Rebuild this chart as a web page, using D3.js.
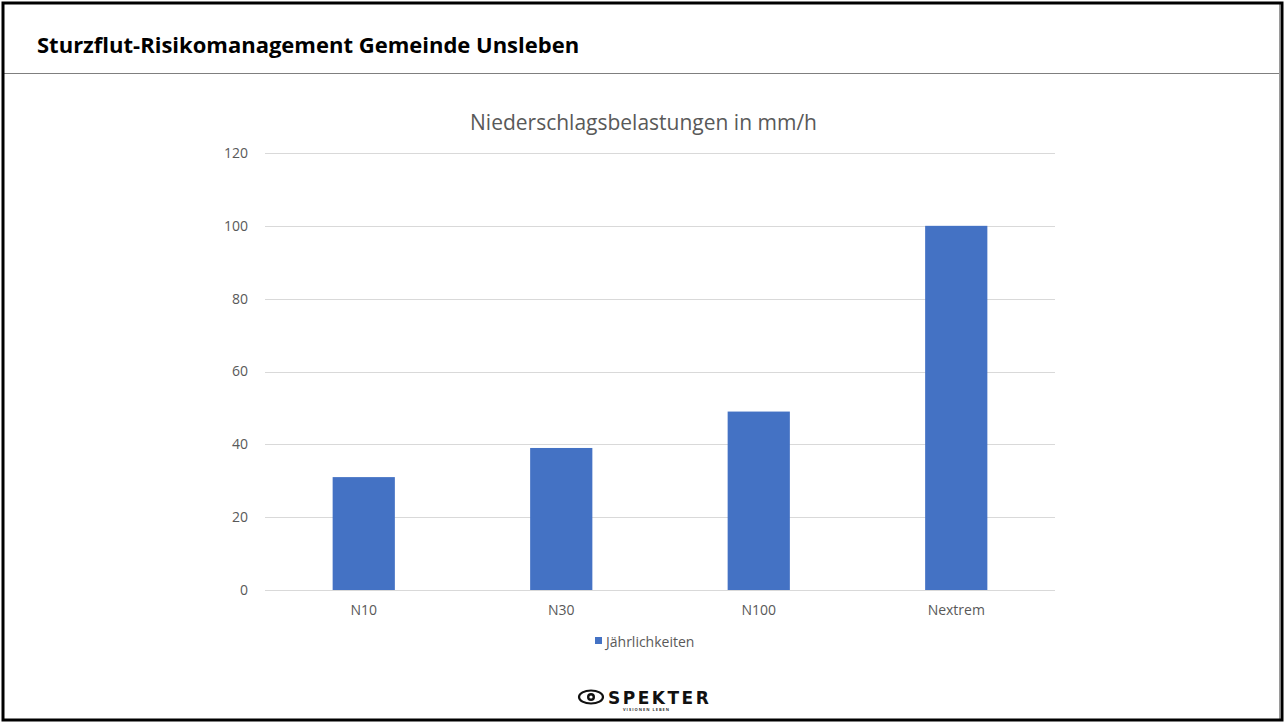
<!DOCTYPE html>
<html lang="de">
<head>
<meta charset="UTF-8">
<title>Sturzflut-Risikomanagement</title>
<script src="https://d3js.org/d3.v7.min.js"></script>
<style>
  html, body { margin: 0; padding: 0; background: #fff; }
  svg { display: block; font-family: "Open Sans", "Noto Sans", sans-serif; }
</style>
</head>
<body>
<svg id="chart" width="1284" height="722"></svg>
<script>
// data
const categories = ["N10", "N30", "N100", "Nextrem"];
const values = [31, 39, 49, 100];
const yTicks = [0, 20, 40, 60, 80, 100, 120];
const seriesName = "Jährlichkeiten";

const width = 1284, height = 722;
const plot = { left: 265, right: 1055, top: 153, bottom: 590 };
const barColor = "#4472C4";
const textColor = "#595959";

const svg = d3.select("#chart");

// page frame
svg.append("rect").attr("x", 0).attr("y", 0).attr("width", width).attr("height", height).attr("fill", "#fff");
svg.append("line").attr("x1", 4).attr("x2", 1280).attr("y1", 73.5).attr("y2", 73.5)
    .attr("stroke", "#7f7f7f").attr("stroke-width", 1);
svg.append("line").attr("x1", 1279.5).attr("x2", 1279.5).attr("y1", 4).attr("y2", 719)
    .attr("stroke", "#9a9a9a").attr("stroke-width", 1);
svg.append("rect").attr("x", 3).attr("y", 3).attr("width", 1279).attr("height", 717)
    .attr("fill", "none").attr("stroke", "#000").attr("stroke-width", 3);

svg.append("text")
    .attr("x", 37).attr("y", 53)
    .attr("font-size", 22).attr("font-weight", "bold").attr("fill", "#000")
    .text("Sturzflut-Risikomanagement Gemeinde Unsleben");

// scales
const x = d3.scaleBand().domain(categories).range([plot.left, plot.right]).padding(0);
const y = d3.scaleLinear().domain([0, 120]).range([plot.bottom, plot.top]);
const barW = x.bandwidth() * 0.315;

// gridlines
svg.append("g").selectAll("line").data(yTicks).join("line")
    .attr("x1", plot.left).attr("x2", plot.right)
    .attr("y1", d => Math.round(y(d)) + 0.5).attr("y2", d => Math.round(y(d)) + 0.5)
    .attr("stroke", "#d9d9d9").attr("stroke-width", 1);

// y axis labels
const yAxis = d3.axisLeft(y).tickValues(yTicks).tickSize(0).tickPadding(0);
const gy = svg.append("g").attr("transform", `translate(${248},0)`).call(yAxis);
gy.select(".domain").remove();
gy.selectAll("text").attr("font-size", 14).attr("fill", textColor)
    .attr("font-family", "'Open Sans', sans-serif");

// x axis labels
const xAxis = d3.axisBottom(x).tickSize(0).tickPadding(0);
const gx = svg.append("g").attr("transform", `translate(0,${plot.bottom + 15})`).call(xAxis);
gx.select(".domain").remove();
gx.selectAll("text").attr("font-size", 14).attr("fill", textColor)
    .attr("font-family", "'Open Sans', sans-serif");

// bars
svg.append("g").selectAll("rect").data(values).join("rect")
    .attr("x", (d, i) => x(categories[i]) + x.bandwidth() / 2 - barW / 2)
    .attr("y", d => y(d))
    .attr("width", barW)
    .attr("height", d => y(0) - y(d))
    .attr("fill", barColor);

// chart title
svg.append("text")
    .attr("x", 643.5).attr("y", 130)
    .attr("text-anchor", "middle")
    .attr("font-size", 21).attr("fill", textColor)
    .text("Niederschlagsbelastungen in mm/h");

// legend
const lg = svg.append("g").attr("transform", "translate(595,637)");
lg.append("rect").attr("width", 7).attr("height", 7).attr("fill", barColor);
lg.append("text").attr("x", 11).attr("y", 9.5).attr("font-size", 14).attr("fill", textColor)
    .text(seriesName);

// logo
const logo = svg.append("g").attr("transform", "translate(578,687)");
logo.append("ellipse").attr("cx", 13).attr("cy", 10).attr("rx", 12).attr("ry", 6.5)
    .attr("fill", "none").attr("stroke", "#111").attr("stroke-width", 2.2);
logo.append("circle").attr("cx", 13).attr("cy", 10).attr("r", 4).attr("fill", "#111");
logo.append("circle").attr("cx", 13).attr("cy", 10).attr("r", 1.6).attr("fill", "#fff");
logo.append("text").attr("x", 30).attr("y", 16.5).attr("font-size", 17).attr("font-weight", "900")
    .attr("font-family", "'DejaVu Sans', sans-serif").attr("fill", "#111").attr("letter-spacing", 2.5)
    .text("SPEKTER");
logo.append("text").attr("x", 45).attr("y", 24).attr("font-size", 4).attr("font-weight", "bold")
    .attr("fill", "#333").attr("letter-spacing", 1).text("VISIONEN LEBEN");
</script>
</body>
</html>
